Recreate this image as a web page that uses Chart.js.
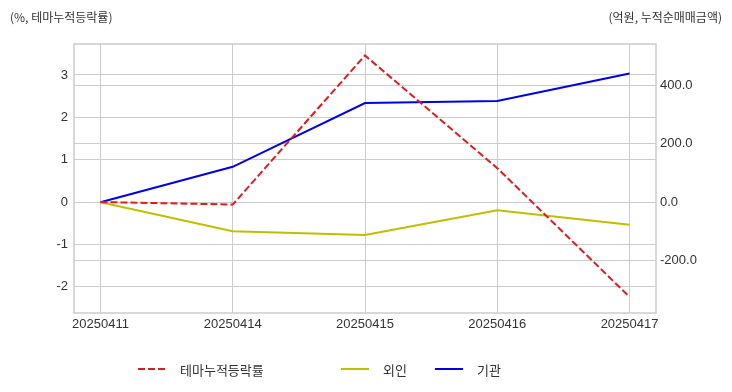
<!DOCTYPE html>
<html>
<head>
<meta charset="utf-8">
<script src="https://cdn.jsdelivr.net/npm/chart.js@4.4.1/dist/chart.umd.min.js"></script>
<style>
    body { margin: 0; background: #fff; }
    #wrap { position: relative; width: 732px; height: 392px; }
    #chart { position: absolute; left: 0; top: 0; }
    .note { position: absolute; top: 8px; font: 12px "Noto Sans CJK KR", sans-serif; color: #333; white-space: nowrap; }
    .lg { position: absolute; top: 360px; height: 18px; display: flex; align-items: center; font: 13px "Noto Sans CJK KR", sans-serif; color: #333; white-space: nowrap; }
    .lg i { display: inline-block; width: 28px; height: 2px; margin-right: 14px; }
</style>
</head>
<body>
<div id="wrap">
    <canvas id="chart" width="732" height="392"></canvas>
    <div class="note" style="left:10px">(%, 테마누적등락률)</div>
    <div class="note" style="right:10px">(억원, 누적순매매금액)</div>
    <div id="legend"></div>
</div>
<script>
// 데이터
const dates = ['20250411', '20250414', '20250415', '20250416', '20250417'];
const seriesNames = ['테마누적등락률', '외인', '기관'];
const themeRate = [0, -0.06, 3.46, 0.8, -2.24];   // %, 왼쪽 축
const foreign = [0, -99, -112, -28, -77];          // 억원, 오른쪽 축
const institution = [0, 121, 339, 346, 440];       // 억원, 오른쪽 축

const colors = ['#e31a1c', '#bfbf00', '#0000e6'];
const legendLeft = [138, 341, 435];

const toPoints = arr => arr.map((v, i) => ({ x: i, y: v }));

// 범례 (HTML)
const legendEl = document.getElementById('legend');
seriesNames.forEach((name, i) => {
    const item = document.createElement('div');
    item.className = 'lg';
    item.style.left = legendLeft[i] + 'px';
    const line = document.createElement('i');
    if (i === 0) {
        line.style.background = `repeating-linear-gradient(to right, ${colors[0]} 0 7px, transparent 7px 10px)`;
    } else {
        line.style.background = colors[i];
    }
    item.appendChild(line);
    item.appendChild(document.createTextNode(name));
    legendEl.appendChild(item);
});

// 차트 테두리
const framePlugin = {
    id: 'frame',
    beforeDatasetsDraw(chart) {
        const { ctx, chartArea: a } = chart;
        ctx.save();
        ctx.strokeStyle = '#cccccc';
        ctx.lineWidth = 1.5;
        ctx.strokeRect(a.left, a.top, a.right - a.left, a.bottom - a.top);
        ctx.restore();
    }
};

const tickFont = { family: '"Liberation Sans", Arial, sans-serif', size: 13 };
const gridColor = '#cccccc';

new Chart(document.getElementById('chart'), {
    type: 'line',
    data: {
        datasets: [
            {
                label: seriesNames[0],
                data: toPoints(themeRate),
                yAxisID: 'y',
                borderColor: colors[0],
                borderWidth: 2,
                borderDash: [7, 3],
                pointRadius: 0,
                tension: 0
            },
            {
                label: seriesNames[1],
                data: toPoints(foreign),
                yAxisID: 'y1',
                borderColor: colors[1],
                borderWidth: 2,
                pointRadius: 0,
                tension: 0
            },
            {
                label: seriesNames[2],
                data: toPoints(institution),
                yAxisID: 'y1',
                borderColor: colors[2],
                borderWidth: 2,
                pointRadius: 0,
                tension: 0
            }
        ]
    },
    options: {
        responsive: false,
        animation: false,
        layout: { padding: { top: 44, left: 0, right: 0, bottom: 0 } },
        plugins: {
            legend: { display: false },
            tooltip: { enabled: false }
        },
        scales: {
            x: {
                type: 'linear',
                min: -0.2,
                max: 4.2,
                afterFit: s => { s.height = 79; },
                ticks: {
                    stepSize: 1,
                    includeBounds: false,
                    autoSkip: false,
                    maxRotation: 0,
                    padding: 4,
                    color: '#333',
                    font: tickFont,
                    callback: v => dates[v] ?? ''
                },
                grid: { color: gridColor, drawTicks: false },
                border: { display: false }
            },
            y: {
                position: 'left',
                min: -2.62,
                max: 3.73,
                afterFit: s => { s.width = 74; },
                ticks: {
                    stepSize: 1,
                    includeBounds: false,
                    padding: 6,
                    color: '#333',
                    font: tickFont
                },
                grid: { color: gridColor, drawTicks: false },
                border: { display: false }
            },
            y1: {
                position: 'right',
                min: -379,
                max: 541,
                afterFit: s => { s.width = 76; },
                ticks: {
                    stepSize: 200,
                    includeBounds: false,
                    padding: 4,
                    color: '#333',
                    font: tickFont,
                    callback: v => v.toFixed(1)
                },
                grid: { color: gridColor, drawTicks: false },
                border: { display: false }
            }
        }
    },
    plugins: [framePlugin]
});
</script>
</body>
</html>
